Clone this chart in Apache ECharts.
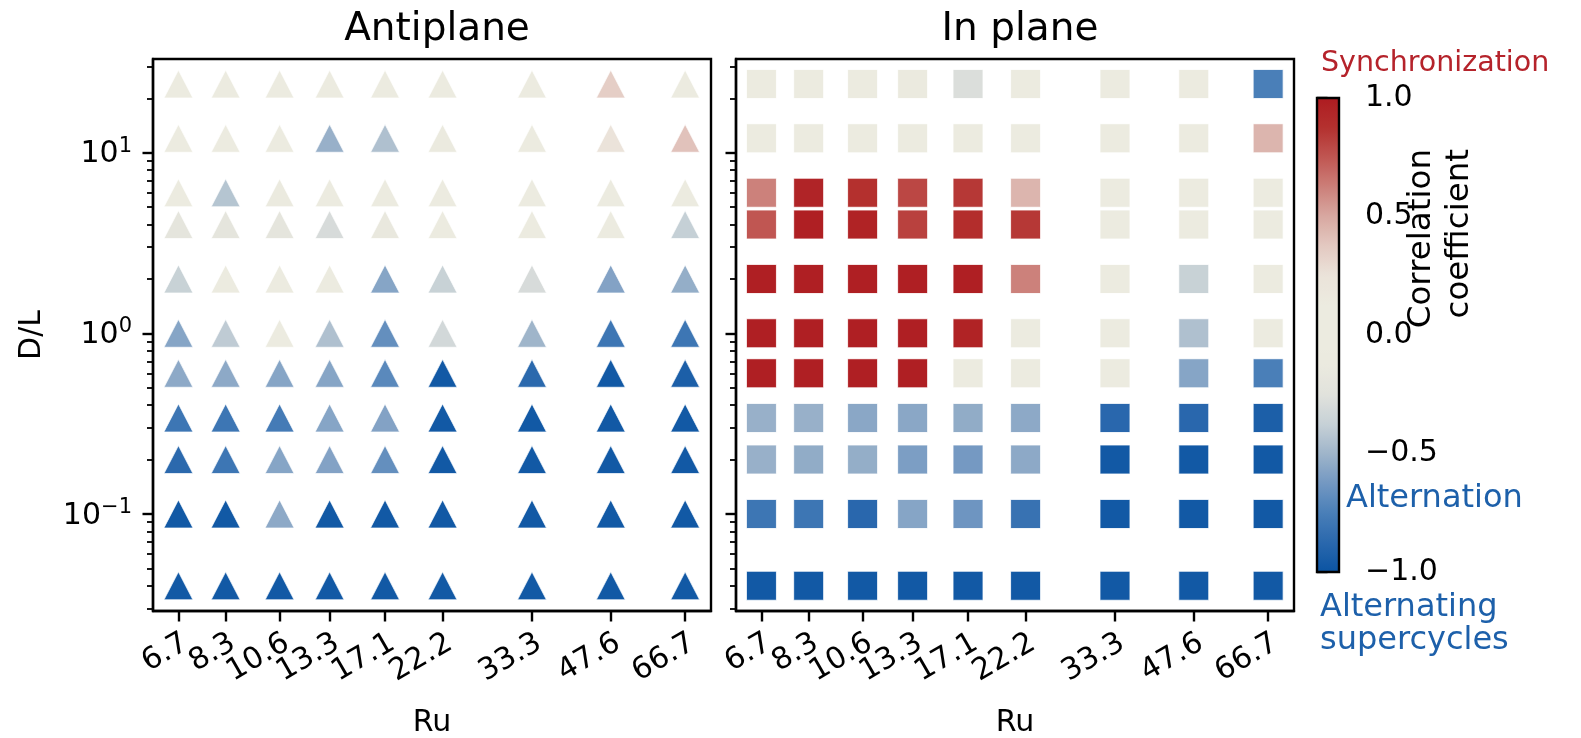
<!DOCTYPE html>
<html><head><meta charset="utf-8">
<script src="https://cdn.jsdelivr.net/npm/echarts@6/dist/echarts.min.js"></script>
<style>html,body{margin:0;padding:0;background:#fff}#c{width:1581px;height:738px}</style>
</head><body><div id="c"></div>
<script>
// ---- data ----
const ruValues = [6.7, 8.3, 10.6, 13.3, 17.1, 22.2, 33.3, 47.6, 66.7];
const ruLabels = ['6.7', '8.3', '10.6', '13.3', '17.1', '22.2', '33.3', '47.6', '66.7'];
const dlValues = [24, 12, 6, 4, 2, 1, 0.6, 0.34, 0.2, 0.1, 0.04];
// correlation coefficient, rows follow dlValues, columns follow ruValues
const antiplane = [
  [0.02, 0.02, 0.02, 0.02, 0.02, 0.02, 0.02, 0.35, 0.02],
  [0.02, 0.02, 0.02, -0.52, -0.45, -0.12, 0.02, 0.25, 0.4],
  [-0.05, -0.43, -0.1, 0.02, 0.02, 0.02, 0.02, 0.02, 0.0],
  [-0.2, -0.2, -0.2, -0.3, -0.15, 0.02, 0.02, 0.02, -0.38],
  [-0.37, -0.05, 0.02, 0.02, -0.57, -0.37, -0.3, -0.58, -0.53],
  [-0.57, -0.4, 0.0, -0.45, -0.67, -0.32, -0.5, -0.8, -0.8],
  [-0.55, -0.55, -0.57, -0.57, -0.7, -0.97, -0.87, -0.97, -0.93],
  [-0.8, -0.8, -0.77, -0.57, -0.58, -0.97, -0.97, -0.97, -0.97],
  [-0.87, -0.8, -0.57, -0.58, -0.67, -0.97, -0.97, -0.97, -0.97],
  [-0.97, -0.97, -0.55, -0.97, -0.97, -0.97, -0.97, -0.97, -0.97],
  [-0.97, -0.97, -0.97, -0.97, -0.97, -0.97, -0.97, -0.97, -0.97]
];
const inplane = [
  [0.0, 0.0, 0.0, -0.1, -0.28, 0.0, 0.0, 0.0, -0.75],
  [0.0, 0.0, 0.0, 0.0, 0.0, 0.0, 0.0, 0.0, 0.45],
  [0.62, 0.95, 0.88, 0.8, 0.85, 0.45, 0.0, 0.0, 0.0],
  [0.75, 0.98, 0.96, 0.82, 0.9, 0.85, 0.0, 0.0, 0.0],
  [0.98, 0.98, 0.98, 0.98, 0.98, 0.62, 0.0, -0.37, 0.0],
  [0.98, 0.98, 0.98, 0.98, 0.96, 0.0, 0.0, -0.45, 0.0],
  [0.98, 0.98, 0.98, 0.98, 0.0, 0.0, 0.0, -0.57, -0.75],
  [-0.52, -0.52, -0.56, -0.56, -0.54, -0.55, -0.88, -0.88, -0.93],
  [-0.52, -0.54, -0.53, -0.6, -0.62, -0.55, -0.97, -0.97, -0.97],
  [-0.8, -0.8, -0.88, -0.57, -0.64, -0.82, -0.97, -0.97, -0.97],
  [-0.97, -0.97, -0.97, -0.97, -0.97, -0.97, -0.97, -0.97, -0.97]
];
const yMajorTicks = [0.1, 1, 10];
const yMinorTicks = [0.03, 0.04, 0.05, 0.06, 0.07, 0.08, 0.09, 0.2, 0.3, 0.4, 0.5, 0.6, 0.7, 0.8, 0.9, 2, 3, 4, 5, 6, 7, 8, 9, 20, 30];
const cbTicks = [-1, -0.5, 0, 0.5, 1];
const cmapColors = ['#0b54a2', '#2a68ad', '#4a7fb8', '#7398c2', '#9fb5ca', '#c7d1d6', '#e1e2dc', '#ebeadf', '#ecebe0',
  '#ecebe0', '#ebe3da', '#e3c9c1', '#d8a8a1', '#cc7f79', '#c05652', '#b4312f', '#ae1c21'];
const xMin = 5.97, xMax = 75.0, yMin = 0.029, yMax = 33.0;

// ---- build ----
function toPoints(mat) {
  const out = [];
  mat.forEach((row, i) => row.forEach((v, j) => out.push([ruValues[j], dlValues[i], v])));
  return out;
}
const FONT = 'DejaVu Sans';
const ruLabelOf = v => {
  let best = 0;
  ruValues.forEach((r, i) => { if (Math.abs(r - v) < Math.abs(ruValues[best] - v)) best = i; });
  return ruLabels[best];
};
const powLabel = v => {
  const e = Math.round(Math.log10(v));
  return '{b|10}{s|' + (e < 0 ? '\u2212' + (-e) : e) + '}';
};
const lineBlack = {color: '#000', width: 2.4};
// the Ru ticks are split over two overlapping axes so that ECharts' min/max label
// overlap rule does not drop any of the (overlapping) rotated labels
const ruEven = ruValues.filter((v, i) => i % 2 === 0);
const ruOdd = ruValues.filter((v, i) => i % 2 === 1);

function xAxisFor(g, ticks, main) {
  const ax = {
    gridIndex: g, type: 'log', min: xMin, max: xMax, position: 'bottom',
    axisLine: {show: main, lineStyle: lineBlack},
    axisTick: {show: true, customValues: ticks, length: 10.5, lineStyle: lineBlack},
    axisLabel: {show: true, customValues: ticks, showMinLabel: true, showMaxLabel: true, rotate: 30, margin: 17,
      align: 'right', verticalAlign: 'top', fontSize: 30, fontFamily: FONT, color: '#000',
      formatter: v => ruLabelOf(v)},
    splitLine: {show: false}, minorTick: {show: false}
  };
  if (main) {
    ax.name = 'Ru'; ax.nameLocation = 'middle'; ax.nameGap = 97; ax.nameMoveOverlap = false;
    ax.nameTextStyle = {fontSize: 30, fontFamily: FONT, color: '#000'};
  }
  return ax;
}
function yMajor(g, labels) {
  const ax = {
    gridIndex: g, type: 'log', min: yMin, max: yMax, position: 'left',
    axisLine: {show: true, lineStyle: lineBlack},
    axisTick: {show: true, customValues: yMajorTicks, length: 10.5, lineStyle: lineBlack},
    axisLabel: {show: labels, customValues: yMajorTicks, margin: 21, formatter: powLabel,
      rich: {b: {fontSize: 30, fontFamily: FONT, color: '#000', verticalAlign: 'bottom', lineHeight: 34},
             s: {fontSize: 21, fontFamily: FONT, color: '#000', verticalAlign: 'top', lineHeight: 34}}},
    splitLine: {show: false}, minorTick: {show: false}
  };
  if (labels) {
    ax.name = 'D/L'; ax.nameLocation = 'middle'; ax.nameGap = 106; ax.nameMoveOverlap = false;
    ax.nameTextStyle = {fontSize: 30, fontFamily: FONT, color: '#000'};
  }
  return ax;
}
function yMinor(g) {
  return {
    gridIndex: g, type: 'log', min: yMin, max: yMax, position: 'left',
    axisLine: {show: false},
    axisTick: {show: true, customValues: yMinorTicks, length: 6, lineStyle: {color: '#000', width: 1.8}},
    axisLabel: {show: false}, splitLine: {show: false}, minorTick: {show: false}
  };
}
const gridBase = {show: true, borderColor: '#000', borderWidth: 2.4, backgroundColor: 'transparent',
  containLabel: false, outerBoundsMode: 'none'};

const chart = echarts.init(document.getElementById('c'), null, {renderer: 'canvas'});
const option = {
  animation: false,
  backgroundColor: '#fff',
  textStyle: {fontFamily: FONT},
  title: [
    {text: 'Antiplane', left: 432, top: 5, textAlign: 'center', textStyle: {fontSize: 39, fontWeight: 'normal', fontFamily: FONT, color: '#000'}},
    {text: 'In plane', left: 1015, top: 5, textAlign: 'center', textStyle: {fontSize: 39, fontWeight: 'normal', fontFamily: FONT, color: '#000'}}
  ],
  grid: [
    Object.assign({left: 153, top: 59, width: 558, height: 552}, gridBase),
    Object.assign({left: 736, top: 59, width: 558, height: 552}, gridBase),
    {left: 1317, top: 98, width: 22, height: 474, show: false, containLabel: false, outerBoundsMode: 'none'}
  ],
  xAxis: [
    xAxisFor(0, ruEven, true), xAxisFor(0, ruOdd, false),
    xAxisFor(1, ruEven, true), xAxisFor(1, ruOdd, false),
    {gridIndex: 2, type: 'value', min: 0, max: 1, show: false}
  ],
  yAxis: [
    yMajor(0, true), yMinor(0), yMajor(1, false), yMinor(1),
    {gridIndex: 2, type: 'value', min: -1, max: 1, interval: 0.5, position: 'right',
      axisLine: {show: false},
      axisTick: {show: true, customValues: cbTicks, length: 10.5, lineStyle: lineBlack},
      axisLabel: {customValues: cbTicks, margin: 26, fontSize: 30, fontFamily: FONT, color: '#000',
        formatter: v => (v < 0 ? '\u2212' : '') + Math.abs(v).toFixed(1)},
      splitLine: {show: false}}
  ],
  visualMap: {
    type: 'continuous', min: -1, max: 1, dimension: 2, seriesIndex: [0, 1],
    calculable: false, hoverLink: false, show: true, left: 1317, top: 98,
    itemWidth: 22, itemHeight: 474, padding: 0, text: null,
    inRange: {color: cmapColors}
  },
  series: [
    {type: 'scatter', xAxisIndex: 0, yAxisIndex: 0, symbol: 'triangle', symbolSize: [29, 28],
      itemStyle: {opacity: 1, borderColor: 'rgba(255,255,255,0.7)', borderWidth: 1},
      data: toPoints(antiplane)},
    {type: 'scatter', xAxisIndex: 2, yAxisIndex: 2, symbol: 'rect', symbolSize: [30, 29],
      itemStyle: {opacity: 1, borderColor: 'rgba(255,255,255,0.8)', borderWidth: 1},
      data: toPoints(inplane)}
  ],
  graphic: [
    {type: 'rect', z: 100, shape: {x: 1317, y: 98, width: 22, height: 474},
      style: {fill: null, stroke: '#000', lineWidth: 2.4}},
    {type: 'text', z: 100, x: 1321, y: 64, style: {text: 'Synchronization', font: '28.5px "DejaVu Sans"', fill: '#b5232b', textAlign: 'left', textVerticalAlign: 'middle'}},
    {type: 'text', z: 100, x: 1346, y: 499, style: {text: 'Alternation', font: '32px "DejaVu Sans"', fill: '#1d60aa', textAlign: 'left', textVerticalAlign: 'middle'}},
    {type: 'text', z: 100, x: 1320, y: 624, style: {text: 'Alternating\nsupercycles', font: '32px "DejaVu Sans"', lineHeight: 33, fill: '#1d60aa', textAlign: 'left', textVerticalAlign: 'middle'}},
    {type: 'text', z: 100, x: 1441, y: 149, rotation: Math.PI / 2, style: {text: 'Correlation\ncoefficient', font: '32.5px "DejaVu Sans"', lineHeight: 38, fill: '#000', textAlign: 'right', textVerticalAlign: 'middle'}}
  ]
};
chart.setOption(option);
</script></body></html>
